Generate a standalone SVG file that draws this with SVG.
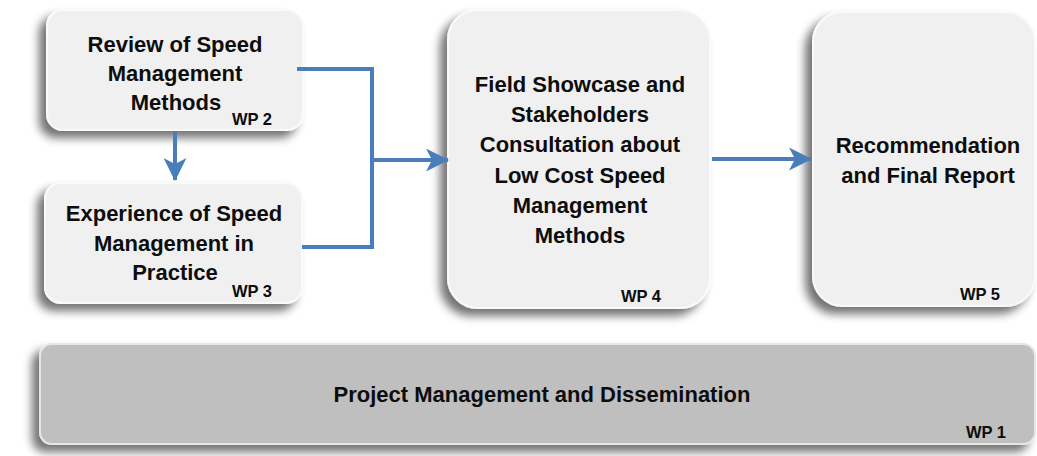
<svg xmlns="http://www.w3.org/2000/svg" width="1037" height="456" viewBox="0 0 1037 456">
<style>
.box{fill:#f0f0f0;stroke:#fafafa;stroke-width:2;filter:url(#sh)}
.bar{fill:#bfbfbf;stroke:#e6e6e6;stroke-width:2;filter:url(#sh)}
.t{font-family:"Liberation Sans",Arial,sans-serif;font-weight:bold;font-size:22px;fill:#0d0d0d;text-anchor:middle}
.wp{font-family:"Liberation Sans",Arial,sans-serif;font-weight:bold;font-size:16.5px;fill:#0d0d0d}
.c{fill:none;stroke:#4a7ebb;stroke-width:4}
</style>
<defs>
<filter id="sh" x="-20%" y="-20%" width="140%" height="150%">
<feGaussianBlur in="SourceAlpha" stdDeviation="5"/>
<feOffset dx="-7" dy="7" result="b"/>
<feComponentTransfer><feFuncA type="linear" slope="0.55"/></feComponentTransfer>
<feMerge><feMergeNode/><feMergeNode in="SourceGraphic"/></feMerge>
</filter>
<marker id="ah" markerUnits="userSpaceOnUse" markerWidth="23" markerHeight="23" viewBox="0 0 23 23" refX="22" refY="11.5" orient="auto">
<path d="M0,0 L23,11.5 L0,23 L6,11.5 Z" fill="#4a7ebb"/>
</marker>
</defs>
<rect width="1037" height="456" fill="#ffffff"/>
<g id="wp2">
<rect class="box" x="47" y="10" width="256" height="120" rx="16"/>
<text class="t" x="175" y="52">Review of Speed</text>
<text class="t" x="175" y="81">Management</text>
<text class="t" x="176" y="110">Methods</text>
<text class="wp" x="232" y="125">WP 2</text>
</g>
<g id="wp3">
<rect class="box" x="45" y="183" width="257" height="120" rx="16"/>
<text class="t" x="174" y="221">Experience of Speed</text>
<text class="t" x="174" y="251">Management in</text>
<text class="t" x="175" y="280">Practice</text>
<text class="wp" x="232" y="297">WP 3</text>
</g>
<g id="wp4">
<rect class="box" x="448" y="10" width="262" height="298" rx="30"/>
<text class="t" x="580" y="92">Field Showcase and</text>
<text class="t" x="580" y="122">Stakeholders</text>
<text class="t" x="580" y="152">Consultation about</text>
<text class="t" x="580" y="183">Low Cost Speed</text>
<text class="t" x="580" y="213">Management</text>
<text class="t" x="580" y="243">Methods</text>
<text class="wp" x="621" y="302">WP 4</text>
</g>
<g id="wp5">
<rect class="box" x="813" y="12" width="222" height="294" rx="30"/>
<text class="t" x="928" y="153">Recommendation</text>
<text class="t" x="928" y="183">and Final Report</text>
<text class="wp" x="960" y="300">WP 5</text>
</g>
<g id="wp1">
<rect class="bar" x="40" y="344" width="995" height="100" rx="12"/>
<text class="t" x="542" y="402">Project Management and Dissemination</text>
<text class="wp" x="966" y="438">WP 1</text>
</g>
<g id="connectors">
<polyline class="c" points="297,69 372,69 372,247 302,247"/>
<line class="c" x1="372" y1="160" x2="448" y2="160" marker-end="url(#ah)"/>
<line class="c" x1="175" y1="131" x2="175" y2="180" marker-end="url(#ah)"/>
<line class="c" x1="712" y1="159" x2="811" y2="159" marker-end="url(#ah)"/>
</g>
</svg>
